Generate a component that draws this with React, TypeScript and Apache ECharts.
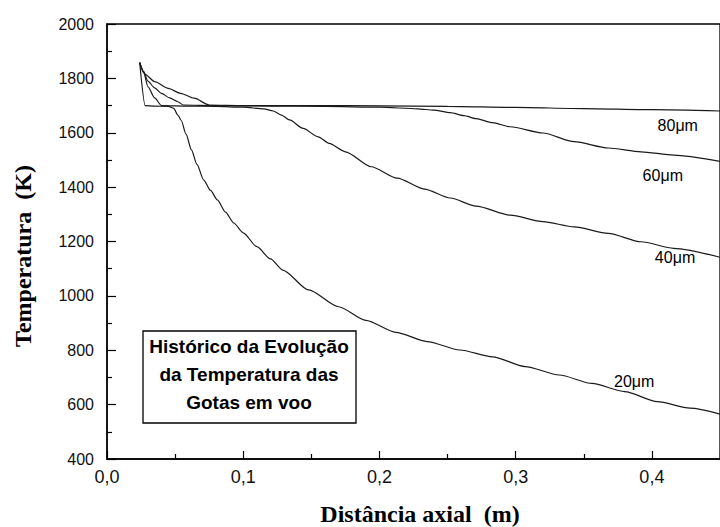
import React, { useEffect, useRef } from "react";
import * as echarts from "echarts";

// ---- data ----
const x20 = [0.024, 0.028, 0.035, 0.045, 0.049, 0.052, 0.0545, 0.058, 0.062, 0.066, 0.071, 0.076, 0.081, 0.087, 0.093, 0.1, 0.11, 0.12, 0.129, 0.148, 0.17, 0.19, 0.212, 0.235, 0.259, 0.283, 0.307, 0.332, 0.356, 0.38, 0.404, 0.428, 0.45];
const t20 = [1858, 1700, 1698, 1697, 1690, 1665, 1645, 1595, 1537, 1484, 1426, 1388, 1353, 1308, 1268, 1232, 1181, 1136, 1095, 1022, 960, 910, 866, 832, 801, 776, 740, 709, 678, 648, 611, 587, 565];

const x40 = [0.024, 0.027, 0.03, 0.035, 0.04, 0.06, 0.08, 0.1, 0.115, 0.122, 0.128, 0.134, 0.144, 0.155, 0.163, 0.175, 0.194, 0.213, 0.233, 0.252, 0.271, 0.296, 0.32, 0.343, 0.368, 0.392, 0.416, 0.45];
const t40 = [1858, 1820, 1770, 1728, 1700, 1698, 1697, 1694, 1688, 1680, 1665, 1647, 1616, 1585, 1561, 1530, 1475, 1433, 1393, 1360, 1330, 1297, 1273, 1254, 1230, 1199, 1175, 1142];

const x60 = [0.024, 0.027, 0.03, 0.035, 0.04, 0.046, 0.052, 0.056, 0.08, 0.12, 0.16, 0.2, 0.228, 0.24, 0.252, 0.262, 0.271, 0.283, 0.296, 0.32, 0.343, 0.368, 0.392, 0.416, 0.45];
const t60 = [1858, 1825, 1790, 1765, 1745, 1728, 1714, 1702, 1700, 1698, 1697, 1694, 1688, 1683, 1674, 1663, 1652, 1637, 1622, 1599, 1567, 1544, 1530, 1518, 1495];

const x80 = [0.024, 0.028, 0.035, 0.045, 0.054, 0.064, 0.075, 0.1, 0.15, 0.2, 0.25, 0.3, 0.35, 0.4, 0.45];
const t80 = [1858, 1815, 1788, 1763, 1745, 1727, 1702, 1700, 1700, 1699, 1697, 1693, 1689, 1685, 1680];

const seriesNames = ["20μm", "40μm", "60μm", "80μm"];
const labelCoords: [number, number][] = [
  [0.387, 684],
  [0.417, 1141],
  [0.408, 1443],
  [0.419, 1628],
];

const yTicks = { min: 400, max: 2000, interval: 200 };
const xTicks = { min: 0, max: 0.45, interval: 0.1 };

const boxLines = ["Histórico da Evolução", "da Temperatura das", "Gotas em voo"];

const zip = (xs: number[], ys: number[]) => xs.map((x, i) => [x, ys[i]]);

export default function App() {
  const ref = useRef<HTMLDivElement>(null);
  useEffect(() => {
    if (!ref.current) return;
    const chart = echarts.init(ref.current, undefined, { renderer: "svg" });
    const datasets = [zip(x20, t20), zip(x40, t40), zip(x60, t60), zip(x80, t80)];
    const lineColor = "#1a1a1a";
    chart.setOption({
      animation: false,
      backgroundColor: "#ffffff",
      grid: {
        left: 107,
        top: 24,
        right: -10,
        bottom: 68,
        show: true,
        borderColor: "#000",
        borderWidth: 1.3,
        backgroundColor: "transparent",
      },
      xAxis: {
        type: "value",
        min: xTicks.min,
        max: xTicks.max,
        interval: xTicks.interval,
        axisLine: { show: true, onZero: false, lineStyle: { color: "#000", width: 1.5 } },
        axisTick: { show: true, inside: true, length: 8, lineStyle: { color: "#000", width: 1.2 } },
        minorTick: { show: true, splitNumber: 2, length: 5, lineStyle: { color: "#000", width: 1.2 } },
        splitLine: { show: false },
        axisLabel: {
          margin: 9,
          color: "#111",
          fontFamily: "Liberation Sans, Arial, sans-serif",
          fontSize: 18,
          showMaxLabel: false,
          formatter: (v: number) => v.toFixed(1).replace(".", ","),
        },
      },
      yAxis: {
        type: "value",
        min: yTicks.min,
        max: yTicks.max,
        interval: yTicks.interval,
        axisLine: { show: true, onZero: false, lineStyle: { color: "#000", width: 1.5 } },
        axisTick: { show: true, inside: true, length: 9, lineStyle: { color: "#000", width: 1.2 } },
        minorTick: { show: true, splitNumber: 2, length: 5, lineStyle: { color: "#000", width: 1.2 } },
        splitLine: { show: false },
        axisLabel: {
          margin: 13,
          color: "#111",
          fontFamily: "Liberation Sans, Arial, sans-serif",
          fontSize: 16,
          formatter: (v: number) => String(v),
        },
      },
      series: datasets.map((d, i) => ({
        type: "line",
        name: seriesNames[i],
        data: d,
        showSymbol: false,
        symbol: "none",
        smooth: 0.25,
        smoothMonotone: "x",
        lineStyle: { color: lineColor, width: 1.2 },
        markPoint: {
          silent: true,
          symbol: "circle",
          symbolSize: 0,
          label: {
            show: true,
            position: "inside",
            formatter: seriesNames[i],
            color: "#000",
            fontFamily: "Liberation Sans, Arial, sans-serif",
            fontSize: 16,
          },
          data: [{ coord: labelCoords[i] }],
        },
      })),
      graphic: [
        {
          type: "rect",
          shape: { x: 143, y: 331, width: 213, height: 92 },
          style: { fill: "#fff", stroke: "#000", lineWidth: 1.3 },
          z: 10,
        },
        ...boxLines.map((t, i) => ({
          type: "text",
          x: 249,
          y: 346 + i * 28,
          z: 11,
          style: {
            text: t,
            align: "center",
            verticalAlign: "middle",
            fill: "#000",
            font: "bold 19px 'Liberation Sans', Arial, sans-serif",
          },
        })),
        {
          type: "text",
          x: 420,
          y: 514,
          style: {
            text: "Distância axial  (m)",
            align: "center",
            verticalAlign: "middle",
            fill: "#000",
            font: "bold 24px 'Liberation Serif', 'Times New Roman', serif",
          },
        },
        {
          type: "text",
          x: 23,
          y: 256,
          rotation: Math.PI / 2,
          style: {
            text: "Temperatura  (K)",
            align: "center",
            verticalAlign: "middle",
            fill: "#000",
            font: "bold 24px 'Liberation Serif', 'Times New Roman', serif",
          },
        },
      ],
    });
    return () => chart.dispose();
  }, []);
  return (
    <div
      ref={ref}
      style={{ position: "fixed", left: 0, top: 0, width: 720, height: 527 }}
    />
  );
}
